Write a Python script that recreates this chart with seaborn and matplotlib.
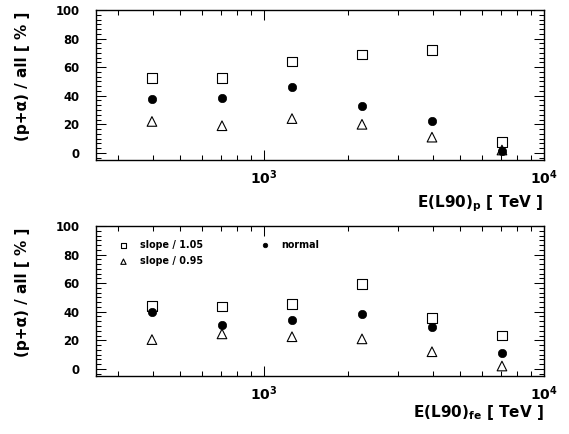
import matplotlib
matplotlib.use("Agg")
import matplotlib.pyplot as plt
import numpy as np
import pandas as pd
import seaborn as sns
from matplotlib.ticker import LogLocator, NullFormatter, AutoMinorLocator

# ---- data ----
energy = [398, 708, 1259, 2239, 3981, 7079]          # E(L90) [TeV]
series_names = ["slope / 1.05", "slope / 0.95", "normal"]

top_slope105 = [52.5, 52.5, 64, 69, 72, 7.5]
top_slope095 = [22, 19, 24, 20, 11, 2]
top_normal = [38, 38.5, 46, 33, 22.5, 1.2]

bot_slope105 = [44, 43.5, 45.5, 59.5, 35.5, 23.5]
bot_slope095 = [20.5, 24.5, 22.5, 21, 12, 2]
bot_normal = [40, 30.5, 34.5, 38.5, 29.5, 11]

y_ticks = [0, 20, 40, 60, 80, 100]
ylabel_text = "(p+α) / all [ % ]"
xlabel_top = r"E(L90)$_{\mathdefault{p}}$ [ TeV ]"
xlabel_bot = r"E(L90)$_{\mathdefault{fe}}$ [ TeV ]"

# ---- style ----
sns.set_style("ticks")
plt.rcParams["font.family"] = ["DejaVu Sans"]
plt.rcParams["font.weight"] = "bold"
plt.rcParams["mathtext.fontset"] = "dejavusans"
plt.rcParams["mathtext.default"] = "bf"
plt.rcParams["axes.edgecolor"] = "black"
plt.rcParams["axes.linewidth"] = 1.0
plt.rcParams["xtick.color"] = "black"
plt.rcParams["ytick.color"] = "black"
plt.rcParams["axes.labelcolor"] = "black"
plt.rcParams["text.color"] = "black"

fig = plt.figure(figsize=(5.69, 4.34), dpi=100)
fig.patch.set_facecolor("white")
ax1 = fig.add_axes([0.1687, 0.6313, 0.7873, 0.3456])
ax2 = fig.add_axes([0.1687, 0.1336, 0.7873, 0.3456])

styles = {
    "slope / 1.05": dict(marker="s", s=46, open=True),
    "slope / 0.95": dict(marker="^", s=48, open=True),
    "normal": dict(marker="o", s=36, open=False),
}

panels = [
    (ax1, {"slope / 1.05": top_slope105, "slope / 0.95": top_slope095, "normal": top_normal}, xlabel_top, -0.223),
    (ax2, {"slope / 1.05": bot_slope105, "slope / 0.95": bot_slope095, "normal": bot_normal}, xlabel_bot, -0.183),
]

for ax, vals, xl, xly in panels:
    for name in series_names:
        st = styles[name]
        df = pd.DataFrame({"E": energy, "frac": vals[name]})
        if st["open"]:
            sns.scatterplot(data=df, x="E", y="frac", ax=ax, marker=st["marker"], s=st["s"],
                            facecolors="none", edgecolor="black", linewidth=0.8,
                            label=name, zorder=3)
            ax.collections[-1].set_facecolor("none")
        else:
            sns.scatterplot(data=df, x="E", y="frac", ax=ax, marker=st["marker"], s=st["s"],
                            color="black", edgecolor="black", linewidth=0.5,
                            label=name, zorder=4)
    ax.set_xscale("log")
    ax.set_xlim(251.2, 10000)
    ax.set_ylim(-5, 100)
    ax.xaxis.set_major_locator(LogLocator(base=10, numticks=10))
    ax.xaxis.set_minor_locator(LogLocator(base=10, subs=np.arange(2, 10), numticks=20))
    ax.xaxis.set_minor_formatter(NullFormatter())
    ax.set_yticks(y_ticks)
    ax.yaxis.set_minor_locator(AutoMinorLocator(6))
    ax.tick_params(which="both", direction="in", top=True, right=True, width=0.75)
    ax.tick_params(which="major", length=7.2)
    ax.tick_params(which="minor", length=3.6)
    ax.tick_params(axis="y", which="major", labelsize=8.4, pad=12.0)
    ax.tick_params(axis="x", which="major", labelsize=10, pad=6.0)
    for lab in ax.get_yticklabels():
        lab.set_fontweight("bold")

    ax.set_ylabel(ylabel_text, fontsize=11, fontweight="bold", loc="top")
    ax.yaxis.set_label_coords(-0.165, 0.99)
    ax.yaxis.label.set_verticalalignment("center")
    ax.set_xlabel(xl, fontsize=11, fontweight="bold", loc="right")
    ax.xaxis.set_label_coords(1.0, xly)
    for sp in ax.spines.values():
        sp.set_visible(True)
        sp.set_linewidth(1.0)
    if ax.get_legend() is not None:
        ax.get_legend().remove()

handles, labels = ax2.get_legend_handles_labels()
order = [labels.index(n) for n in series_names]
leg = ax2.legend([handles[i] for i in order], [labels[i] for i in order],
                 ncol=2, loc="upper left", bbox_to_anchor=(0.0506, 0.909),
                 frameon=False, fontsize=6.9, handlelength=1.0, handletextpad=1.2,
                 columnspacing=6.0, labelspacing=0.68, borderpad=0, borderaxespad=0,
                 markerscale=0.55, scatterpoints=1)
for t in leg.get_texts():
    t.set_fontweight("bold")

fig.savefig("out.png", dpi=100, facecolor="white")
